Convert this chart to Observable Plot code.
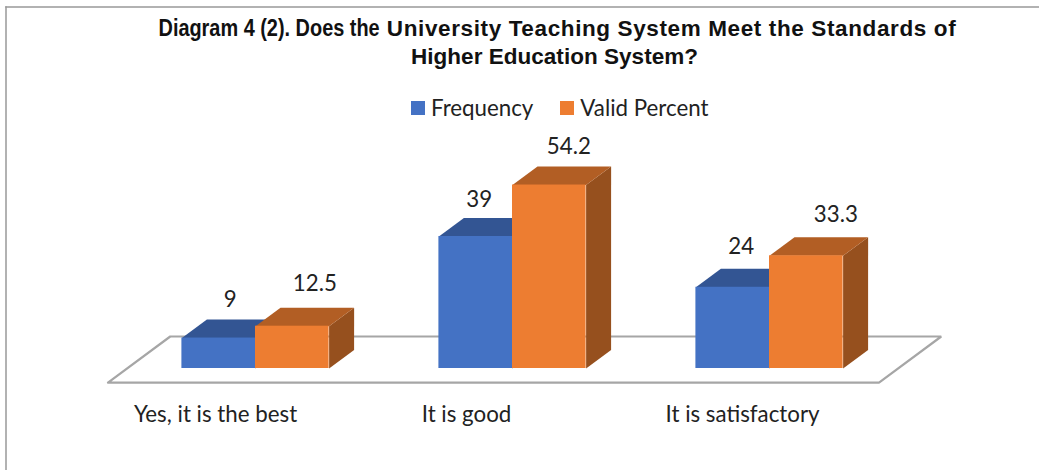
<!DOCTYPE html>
<html><head><meta charset="utf-8">
<script src="https://cdn.jsdelivr.net/npm/d3@7"></script>
<script src="https://cdn.jsdelivr.net/npm/@observablehq/plot@0.6"></script>
<style>
html,body{margin:0;padding:0;background:#fff;overflow:hidden}
#wrap{position:relative;width:1039px;height:470px}
.tl{position:absolute;left:0;text-align:center;white-space:nowrap;font:bold 22.5px/28px "Liberation Sans",Arial,sans-serif;color:#111}
#t1{top:14px;width:1115px;letter-spacing:.62px}
#t2{top:43px;width:1109px;letter-spacing:.03px}
#t1 .a{display:inline-block;font-size:23px;letter-spacing:0;transform:scaleX(.865);transform-origin:100% 50%;margin-left:-34.4px}
#legend{position:absolute;left:411px;top:94px;font:22.3px/28px Lato,sans-serif;color:#222;display:flex;align-items:center}
#legend i{display:inline-block;width:14px;height:14px;margin-right:6px}
#legend span{margin-right:27px}
</style></head><body><div id="wrap">
<div id="t1" class="tl"><span class="a">Diagram 4 (2). Does the</span> University Teaching System Meet the Standards of</div>
<div id="t2" class="tl">Higher Education System?</div>
<div id="legend"></div>
<div id="chart"></div></div>
<script>
const categories = ["Yes, it is the best", "It is good", "It is satisfactory"];
const seriesNames = ["Frequency", "Valid Percent"];
const frequency = [9, 39, 24];
const validPercent = [12.5, 54.2, 33.3];
const colors = ["#4472C4", "#ED7D31"];
const topColors = ["#335593", "#B25E24"];
const sideColors = ["#2B4A80", "#96501E"];

// Scale calibration: one category is 257 px wide, one value unit is 3.385 px tall
const pxX = 257, pxY = 3.385;
// Hand-placed label offsets of the original, in px
const valueLabelDx = [[-1, 10], [-9, 7], [-4, 17]];
const valueLabelDy = [[0, 4], [-2, 0], [2, 2]];
const categoryLabelDx = [-40, -46, -27];

// Oblique projection: depth z is in bar depths (front of the bar = 0, back = 1)
const barWidth = 73.6 / pxX, skewX = 25 / pxX, skewY = 18.5 / pxY;
const proj = (x, y, z) => ({X: x + z * skewX, Y: y + z * skewY});

const floorCorners = [[-0.5, 0, -0.76], [2.5, 0, -0.76], [2.5, 0, 1.73], [-0.5, 0, 1.73]];
const floorPts = [...floorCorners, floorCorners[0]].map(c => proj(...c));

const bars = [];
categories.forEach((c, i) => {
  [frequency[i], validPercent[i]].forEach((v, s) => {
    bars.push({cat: i, s, v, x0: i + (s - 1) * barWidth, x1: i + s * barWidth});
  });
});
const faces = [];
bars.forEach((b, k) => {
  const poly = (pts, fill) => pts.forEach(p => faces.push({...proj(...p), id: k + fill, fill}));
  poly([[b.x1, 0, 0], [b.x1, b.v, 0], [b.x1, b.v, 1], [b.x1, 0, 1]], sideColors[b.s]);
  poly([[b.x0, b.v, 0], [b.x1, b.v, 0], [b.x1, b.v, 1], [b.x0, b.v, 1]], topColors[b.s]);
});

const chart = Plot.plot({
  width: 1039, height: 470,
  marginLeft: 0, marginRight: 0, marginTop: 0, marginBottom: 0,
  style: {background: "transparent", overflow: "visible"},
  x: {type: "linear", domain: [-255 / pxX, (1039 - 255) / pxX], range: [0, 1039], axis: null},
  y: {type: "linear", domain: [-102 / pxY, 368 / pxY], range: [470, 0], axis: null},
  marks: [
    Plot.frame({anchor: "left", stroke: "#999", strokeWidth: 1.5, insetLeft: 5.5, insetTop: 6.5}),
    Plot.frame({anchor: "top", stroke: "#999", strokeWidth: 1.5, insetTop: 6.5, insetLeft: 5.5}),
    Plot.line(floorPts, {x: "X", y: "Y", stroke: "#A6A6A6", strokeWidth: 2.2, fill: "#fff", strokeLinejoin: "miter"}),
    Plot.line(faces, {x: "X", y: "Y", z: "id", fill: "fill", stroke: null}),
    Plot.rect(bars, {x1: "x0", x2: "x1", y1: 0, y2: "v", fill: d => colors[d.s]}),
    Plot.text(bars, {
      x: d => (d.x0 + d.x1) / 2 + skewX / 2 + valueLabelDx[d.cat][d.s] / pxX,
      y: d => d.v + skewY + (20 + valueLabelDy[d.cat][d.s]) / pxY,
      text: d => String(d.v),
      fontSize: 22.3, fontFamily: "Lato, sans-serif", fill: "#222"
    }),
    Plot.text(categories, {
      x: (d, i) => i + categoryLabelDx[i] / pxX, y: -46 / pxY, text: d => d, fontSize: 22.3,
      fontFamily: "Lato, sans-serif", fill: "#222"
    })
  ]
});
document.getElementById("chart").append(chart);
const lg = document.getElementById("legend");
seriesNames.forEach((n, i) => {
  const sw = document.createElement("i"); sw.style.background = colors[i];
  const t = document.createElement("span"); t.textContent = n;
  lg.append(sw, t);
});
</script></body></html>
